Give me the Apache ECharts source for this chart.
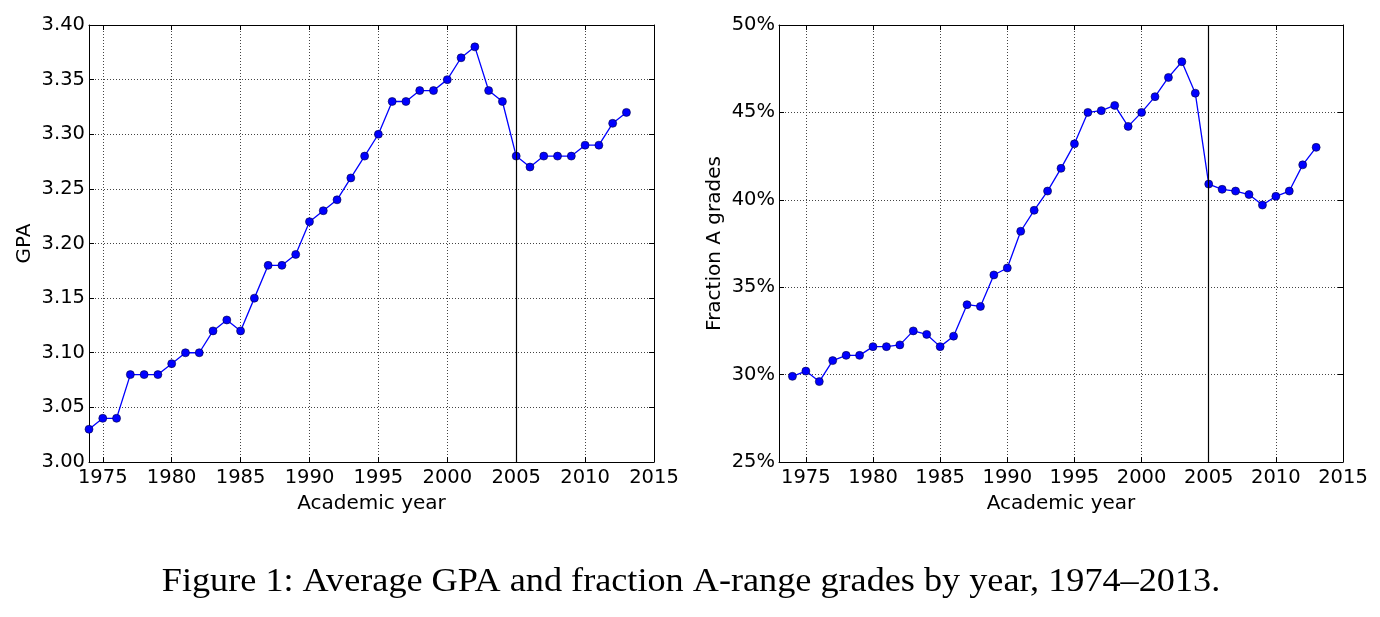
<!DOCTYPE html>
<html>
<head>
<meta charset="utf-8">
<script src="https://cdn.jsdelivr.net/npm/echarts@6/dist/echarts.min.js"></script>
<style>
html,body{margin:0;padding:0;background:#fff;}
#c{width:1380px;height:617px;}
</style>
</head>
<body>
<div id="c"></div>
<script>
const years = [1974,1975,1976,1977,1978,1979,1980,1981,1982,1983,1984,1985,1986,1987,1988,1989,1990,1991,1992,1993,1994,1995,1996,1997,1998,1999,2000,2001,2002,2003,2004,2005,2006,2007,2008,2009,2010,2011,2012,2013];
const gpa = [3.03,3.04,3.04,3.08,3.08,3.08,3.09,3.10,3.10,3.12,3.13,3.12,3.15,3.18,3.18,3.19,3.22,3.23,3.24,3.26,3.28,3.30,3.33,3.33,3.34,3.34,3.35,3.37,3.38,3.34,3.33,3.28,3.27,3.28,3.28,3.28,3.29,3.29,3.31,3.32];
const fracA = [29.9,30.2,29.6,30.8,31.1,31.1,31.6,31.6,31.7,32.5,32.3,31.6,32.2,34.0,33.9,35.7,36.1,38.2,39.4,40.5,41.8,43.2,45.0,45.1,45.4,44.2,45.0,45.9,47.0,47.9,46.1,40.9,40.6,40.5,40.3,39.7,40.2,40.5,42.0,43.0];
const markerYear = 2005;
const caption = "Figure 1: Average GPA and fraction A-range grades by year, 1974\u20132013.";

const FONT = "DejaVu Sans";
const gridLine = {show:true, lineStyle:{color:'#444', type:[1,2], width:1}};
const axLine = {show:true, lineStyle:{color:'#000', width:1}};
const tick = {show:true, inside:true, length:5, lineStyle:{color:'#000', width:1}};

function xAxes(gi, min){
  return [{
    type:'value', gridIndex:gi, min:min, max:2015, splitNumber:8, minInterval:5, maxInterval:5,
    axisLine:axLine, axisTick:tick, splitLine:gridLine,
    axisLabel:{color:'#000', fontFamily:FONT, fontSize:19.5, margin:6,
      formatter:v => (v % 5 === 0 ? String(v) : '')},
    name:'Academic year', nameLocation:'middle', nameGap:32,
    nameTextStyle:{color:'#000', fontFamily:FONT, fontSize:20}
  },{
    type:'value', gridIndex:gi, position:'top', min:min, max:2015, splitNumber:8, minInterval:5, maxInterval:5,
    axisLine:axLine, axisTick:tick, splitLine:{show:false}, axisLabel:{show:false}
  }];
}
function yAxes(gi, min, max, itv, fmt, name){
  return [{
    type:'value', gridIndex:gi, min:min, max:max, interval:itv,
    axisLine:axLine, axisTick:tick, splitLine:gridLine,
    axisLabel:{color:'#000', fontFamily:FONT, fontSize:19.5, margin:4, formatter:fmt},
    name:name, nameLocation:'middle', nameRotate:90, nameGap:54,
    nameTextStyle:{color:'#000', fontFamily:FONT, fontSize:20}
  },{
    type:'value', gridIndex:gi, position:'right', min:min, max:max, interval:itv,
    axisLine:axLine, axisTick:tick, splitLine:{show:false}, axisLabel:{show:false}
  }];
}
function series(xi, yi, vals){
  return {
    type:'line', xAxisIndex:xi, yAxisIndex:yi,
    data: years.map((y,i)=>[y, vals[i]]),
    symbol:'circle', symbolSize:8, showSymbol:true,
    lineStyle:{color:'#0000ff', width:1.3},
    itemStyle:{color:'#0000ff', borderColor:'#000040', borderWidth:0.6},
    animation:false, silent:true,
    markLine:{silent:true, symbol:['none','none'], label:{show:false},
      lineStyle:{color:'#000', type:'solid', width:1.2},
      data:[{xAxis:markerYear}]}
  };
}

const chart = echarts.init(document.getElementById('c'), null, {renderer:'canvas'});
chart.setOption({
  backgroundColor:'#fff',
  animation:false,
  grid:[
    {left:89, top:25, width:565, height:437},
    {left:779, top:25, width:564, height:437}
  ],
  xAxis:[...xAxes(0,1974), ...xAxes(1,1973)],
  yAxis:[...yAxes(0,3.0,3.4,0.05,v=>v.toFixed(2),'GPA'),
         ...yAxes(1,25,50,5,v=>Math.round(v)+'%','Fraction A grades')],
  series:[series(0,0,gpa), series(2,2,fracA)],
  graphic:[{
    type:'text', x:691, y:565, scaleX:1.065, scaleY:1,
    style:{text:caption, fontFamily:'Liberation Serif', fontSize:34, fill:'#000',
      align:'center', verticalAlign:'top'}
  }]
});
</script>
</body>
</html>
